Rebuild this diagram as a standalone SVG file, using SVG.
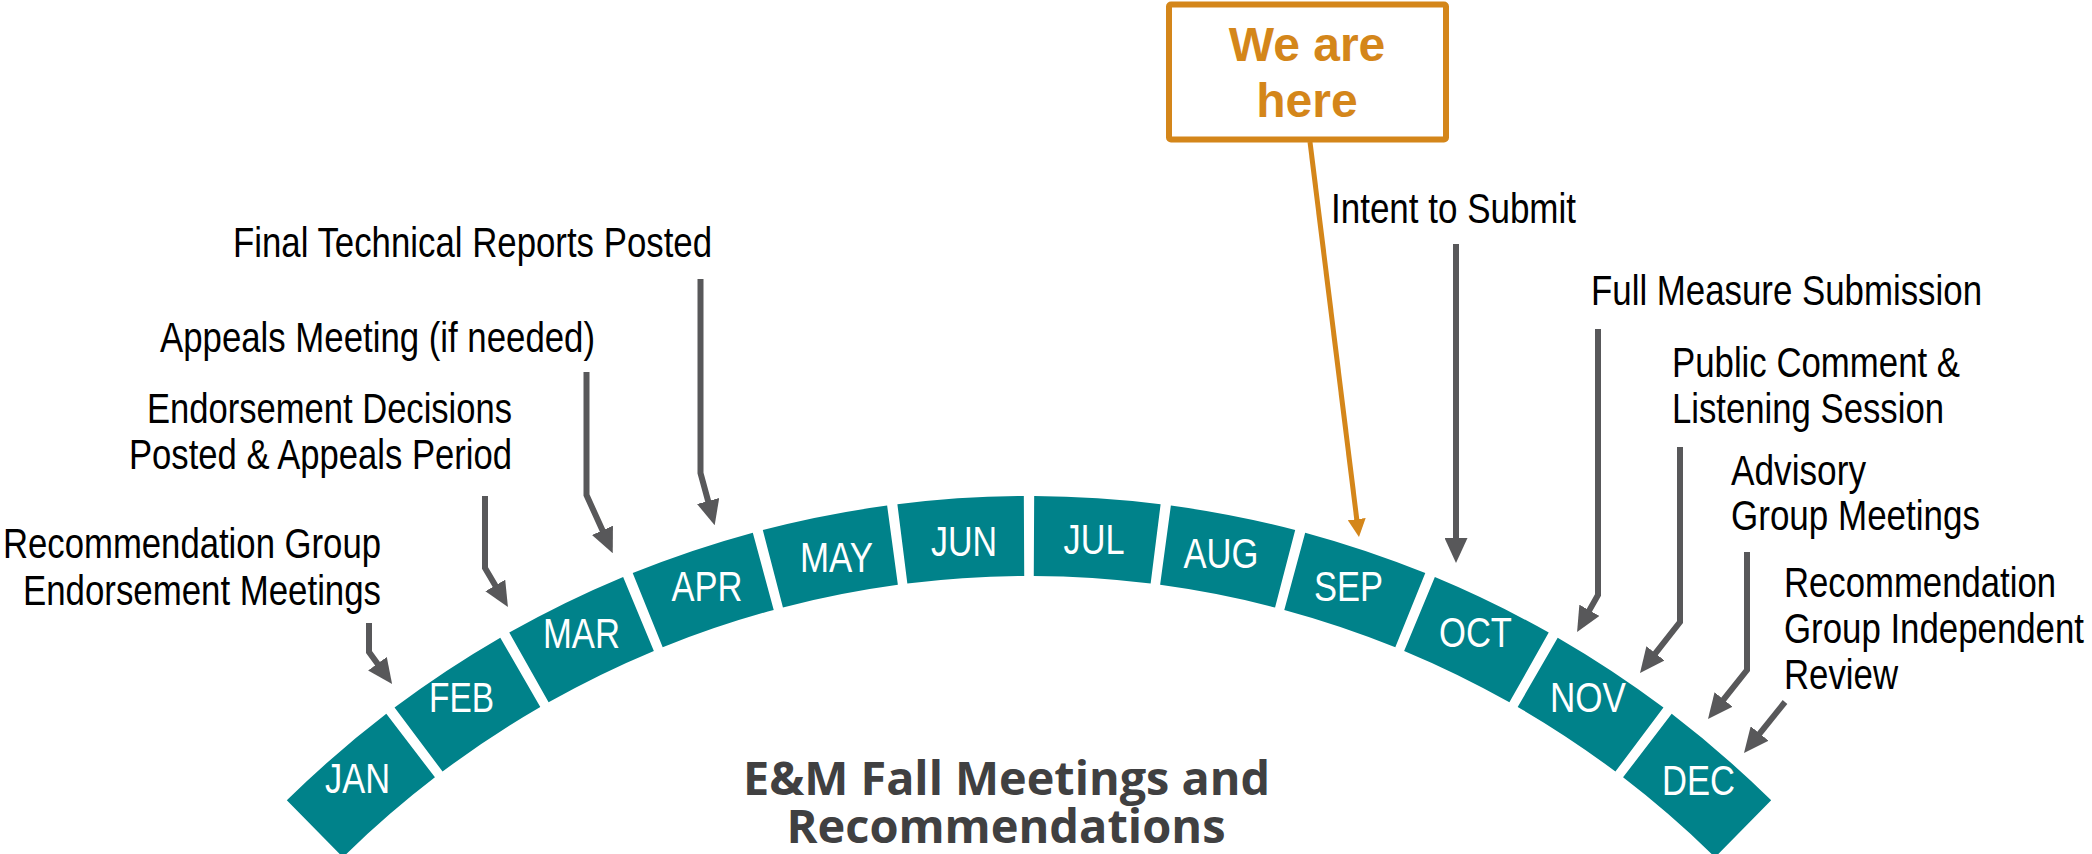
<svg xmlns="http://www.w3.org/2000/svg" width="2092" height="854" viewBox="0 0 2092 854">
<style>
.seg{fill:#00828A}
.mon{font-family:"Liberation Sans Narrow","Liberation Sans",Arial,sans-serif;font-size:42px;fill:#FFFFFF;text-anchor:middle}
.lbl{font-family:"Liberation Sans Narrow","Liberation Sans",Arial,sans-serif;font-size:42px;fill:#000000}
.end{text-anchor:end}
.arr{fill:none;stroke:#58585A;stroke-width:6;stroke-linejoin:miter;marker-end:url(#gh)}
.org{fill:none;stroke:#D4861A;stroke-width:5;marker-end:url(#oh)}
.box{fill:#FFFFFF;stroke:#D4861A;stroke-width:6}
.here{font-family:"Liberation Sans",Arial,sans-serif;font-weight:bold;font-size:48px;fill:#D4861A;text-anchor:middle}
.title{font-family:"Open Sans","Liberation Sans",sans-serif;font-weight:bold;font-size:46px;fill:#404041;text-anchor:middle}
</style>
<defs>
<marker id="gh" viewBox="0 0 25 23" refX="3" refY="11.5" markerWidth="25" markerHeight="23" markerUnits="userSpaceOnUse" orient="auto">
<path d="M0,0 L25,11.5 L0,23 Z" fill="#58585A"/>
</marker>
<marker id="oh" viewBox="0 0 18 18" refX="2" refY="9" markerWidth="18" markerHeight="18" markerUnits="userSpaceOnUse" orient="auto">
<path d="M0,0 L18,9 L0,18 Z" fill="#D4861A"/>
</marker>
</defs>

<g id="jan"><path class="seg" d="M286.81,800.36 A1057,1057 0 0 1 386.31,713.83 L434.95,777.34 A977,977 0 0 0 342.98,857.33 Z"/><text class="mon" x="357.5" y="793" textLength="65" lengthAdjust="spacingAndGlyphs">JAN</text></g>
<g id="feb"><path class="seg" d="M394.55,707.58 A1057,1057 0 0 1 500.29,637.73 L540.30,707.00 A977,977 0 0 0 442.57,771.57 Z"/><text class="mon" x="461.5" y="712" textLength="65" lengthAdjust="spacingAndGlyphs">FEB</text></g>
<g id="mar"><path class="seg" d="M509.26,632.61 A1057,1057 0 0 1 623.14,577.02 L653.86,650.89 A977,977 0 0 0 548.60,702.27 Z"/><text class="mon" x="581.5" y="648" textLength="77" lengthAdjust="spacingAndGlyphs">MAR</text></g>
<g id="apr"><path class="seg" d="M632.70,573.11 A1057,1057 0 0 1 752.82,532.71 L773.72,609.93 A977,977 0 0 0 662.69,647.27 Z"/><text class="mon" x="707" y="601" textLength="71" lengthAdjust="spacingAndGlyphs">APR</text></g>
<g id="may"><path class="seg" d="M762.80,530.07 A1057,1057 0 0 1 887.13,505.57 L897.87,584.84 A977,977 0 0 0 782.94,607.49 Z"/><text class="mon" x="836.5" y="572" textLength="73" lengthAdjust="spacingAndGlyphs">MAY</text></g>
<g id="jun"><path class="seg" d="M897.38,504.22 A1057,1057 0 0 1 1023.83,496.01 L1024.23,576.01 A977,977 0 0 0 907.34,583.60 Z"/><text class="mon" x="964" y="556" textLength="66" lengthAdjust="spacingAndGlyphs">JUN</text></g>
<g id="jul"><path class="seg" d="M1034.17,496.01 A1057,1057 0 0 1 1160.62,504.22 L1150.66,583.60 A977,977 0 0 0 1033.77,576.01 Z"/><text class="mon" x="1094" y="554" textLength="61" lengthAdjust="spacingAndGlyphs">JUL</text></g>
<g id="aug"><path class="seg" d="M1170.87,505.57 A1057,1057 0 0 1 1295.20,530.07 L1275.06,607.49 A977,977 0 0 0 1160.13,584.84 Z"/><text class="mon" x="1221" y="568" textLength="75" lengthAdjust="spacingAndGlyphs">AUG</text></g>
<g id="sep"><path class="seg" d="M1305.18,532.71 A1057,1057 0 0 1 1425.30,573.11 L1395.31,647.27 A977,977 0 0 0 1284.28,609.93 Z"/><text class="mon" x="1348.5" y="601" textLength="69" lengthAdjust="spacingAndGlyphs">SEP</text></g>
<g id="oct"><path class="seg" d="M1434.86,577.02 A1057,1057 0 0 1 1548.74,632.61 L1509.40,702.27 A977,977 0 0 0 1404.14,650.89 Z"/><text class="mon" x="1475.5" y="647" textLength="73" lengthAdjust="spacingAndGlyphs">OCT</text></g>
<g id="nov"><path class="seg" d="M1557.71,637.73 A1057,1057 0 0 1 1663.45,707.58 L1615.43,771.57 A977,977 0 0 0 1517.70,707.00 Z"/><text class="mon" x="1588" y="712" textLength="76" lengthAdjust="spacingAndGlyphs">NOV</text></g>
<g id="dec"><path class="seg" d="M1671.69,713.83 A1057,1057 0 0 1 1771.19,800.36 L1715.02,857.33 A977,977 0 0 0 1623.05,777.34 Z"/><text class="mon" x="1698.5" y="795" textLength="73" lengthAdjust="spacingAndGlyphs">DEC</text></g>

<g id="lbl-rec-endorse"><text class="lbl end" x="381" y="558" textLength="378" lengthAdjust="spacingAndGlyphs">Recommendation Group</text><text class="lbl end" x="381" y="605" textLength="358" lengthAdjust="spacingAndGlyphs">Endorsement Meetings</text></g>
<g id="lbl-decisions"><text class="lbl end" x="512" y="423" textLength="365" lengthAdjust="spacingAndGlyphs">Endorsement Decisions</text><text class="lbl end" x="512" y="469" textLength="383" lengthAdjust="spacingAndGlyphs">Posted &amp; Appeals Period</text></g>
<g id="lbl-appeals"><text class="lbl" x="160" y="352" textLength="435" lengthAdjust="spacingAndGlyphs">Appeals Meeting (if needed)</text></g>
<g id="lbl-final"><text class="lbl" x="233" y="257" textLength="479" lengthAdjust="spacingAndGlyphs">Final Technical Reports Posted</text></g>
<g id="lbl-intent"><text class="lbl" x="1331" y="223" textLength="245" lengthAdjust="spacingAndGlyphs">Intent to Submit</text></g>
<g id="lbl-full"><text class="lbl" x="1591" y="305" textLength="391" lengthAdjust="spacingAndGlyphs">Full Measure Submission</text></g>
<g id="lbl-public"><text class="lbl" x="1672" y="377" textLength="288" lengthAdjust="spacingAndGlyphs">Public Comment &amp;</text><text class="lbl" x="1672" y="423" textLength="272" lengthAdjust="spacingAndGlyphs">Listening Session</text></g>
<g id="lbl-advisory"><text class="lbl" x="1731" y="485" textLength="135" lengthAdjust="spacingAndGlyphs">Advisory</text><text class="lbl" x="1731" y="530" textLength="249" lengthAdjust="spacingAndGlyphs">Group Meetings</text></g>
<g id="lbl-review"><text class="lbl" x="1784" y="597" textLength="272" lengthAdjust="spacingAndGlyphs">Recommendation</text><text class="lbl" x="1784" y="643" textLength="300" lengthAdjust="spacingAndGlyphs">Group Independent</text><text class="lbl" x="1784" y="689" textLength="114" lengthAdjust="spacingAndGlyphs">Review</text></g>

<g id="here-box"><rect class="box" x="1169" y="4.5" width="277" height="135" rx="2"/><text class="here" x="1307" y="61">We are</text><text class="here" x="1307" y="117">here</text></g>

<g id="title"><text class="title" x="1006.5" y="795" textLength="527" lengthAdjust="spacingAndGlyphs">E&amp;M Fall Meetings and</text><text class="title" x="1006" y="843" textLength="439" lengthAdjust="spacingAndGlyphs">Recommendations</text></g>

<g id="connectors">
<path class="arr" d="M369,623 L369,652 L379.2,666.1"/>
<path class="arr" d="M485,496 L485,568 L496.8,588.1"/>
<path class="arr" d="M586.5,372 L586.5,495 L603.7,533.1"/>
<path class="arr" d="M700.5,279 L700.5,473 L708.9,503.9"/>
<path class="arr" d="M1456,244 L1456,541"/>
<path class="arr" d="M1598,329 L1598,595 L1587.9,612.9"/>
<path class="arr" d="M1680,447 L1680,622 L1653.6,655.7"/>
<path class="arr" d="M1747,552 L1747,670 L1721.7,701.8"/>
<path class="arr" d="M1785,702 L1757.8,735.8"/>
<path class="org" d="M1310,142 L1357,521.1"/>
</g>
</svg>
